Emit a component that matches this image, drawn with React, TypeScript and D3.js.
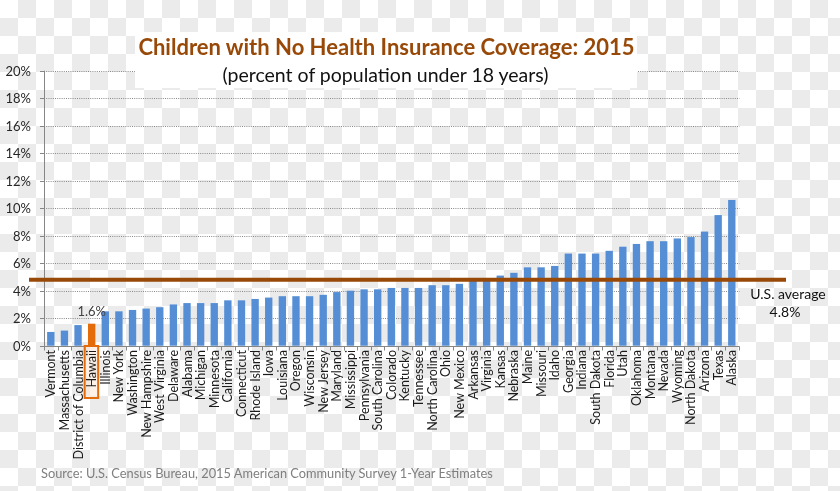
import React from "react";
import * as d3 from "d3";

const states = [
  "Vermont", "Massachusetts", "District of Columbia", "Hawaii", "Illinois", "New York",
  "Washington", "New Hampshire", "West Virginia", "Delaware", "Alabama", "Michigan",
  "Minnesota", "California", "Connecticut", "Rhode Island", "Iowa", "Louisiana", "Oregon",
  "Wisconsin", "New Jersey", "Maryland", "Mississippi", "Pennsylvania", "South Carolina",
  "Colorado", "Kentucky", "Tennessee", "North Carolina", "Ohio", "New Mexico", "Arkansas",
  "Virginia", "Kansas", "Nebraska", "Maine", "Missouri", "Idaho", "Georgia", "Indiana",
  "South Dakota", "Florida", "Utah", "Oklahoma", "Montana", "Nevada", "Wyoming",
  "North Dakota", "Arizona", "Texas", "Alaska",
];

const uninsuredPct = [
  1.0, 1.1, 1.5, 1.6, 2.5, 2.5,
  2.6, 2.7, 2.8, 3.0, 3.1, 3.1,
  3.1, 3.3, 3.3, 3.4, 3.5, 3.6, 3.6,
  3.6, 3.7, 3.9, 4.0, 4.1, 4.1,
  4.2, 4.2, 4.2, 4.4, 4.4, 4.5, 4.9,
  4.9, 5.1, 5.3, 5.7, 5.7, 5.8, 6.7, 6.7,
  6.7, 6.9, 7.2, 7.4, 7.6, 7.6, 7.8,
  7.9, 8.3, 9.5, 10.6,
];

const yTicks = [0, 2, 4, 6, 8, 10, 12, 14, 16, 18, 20];
const highlightState = "Hawaii";
const usAverage = 4.8;

const FONT = "Lato, 'Open Sans', sans-serif";
const BLUE = "#558ED5";
const ORANGE = "#E46C0A";
const BROWN = "#984807";

export default function App() {
  const W = 840;
  const H = 491;
  const left = 44;
  const right = 738.6;
  const y0 = 345.7;
  const yTop = 70.7;

  const x = d3.scaleBand<string>().domain(states).range([left, right]).paddingInner(0.46).paddingOuter(0.23);
  const y = d3.scaleLinear().domain([0, 20]).range([y0, yTop]);
  const step = x.step();
  const axisY = Math.round(y0) + 0.5;

  return (
    <svg width={W} height={H} style={{ position: "fixed", left: 0, top: 0 }} fontFamily={FONT}>
      <defs>
        <pattern id="checker" width={36} height={36} patternUnits="userSpaceOnUse">
          <rect width={36} height={36} fill="#ffffff" />
          <rect x={18} y={0} width={18} height={18} fill="#ebebeb" />
          <rect x={0} y={18} width={18} height={18} fill="#ebebeb" />
        </pattern>
      </defs>
      <rect width={W} height={H} fill="url(#checker)" />

      {/* gridlines */}
      {yTicks.filter((t) => t > 0).map((t) => {
        const yy = Math.round(y(t)) + 0.5;
        return (
          <line key={t} x1={left} x2={right + 1} y1={yy} y2={yy} stroke="#8a8a8a" strokeWidth={1} strokeDasharray="1,1.2" />
        );
      })}

      {/* title box */}
      <rect x={135} y={32} width={502} height={56} fill="#ffffff" />
      <text x={386.5} y={54.5} textAnchor="middle" fontWeight="bold" fontSize={22} fill={BROWN}>
        Children with No Health Insurance Coverage: 2015
      </text>
      <text x={385.5} y={81.5} textAnchor="middle" fontSize={19.5} fill="#111">
        (percent of population under 18 years)
      </text>

      {/* bars */}
      {states.map((s, i) => (
        <rect
          key={s}
          x={x(s)}
          y={y(uninsuredPct[i])}
          width={x.bandwidth()}
          height={y0 - y(uninsuredPct[i])}
          fill={s === highlightState ? ORANGE : BLUE}
        />
      ))}

      {/* y axis */}
      <line x1={left + 0.5} x2={left + 0.5} y1={yTop} y2={axisY} stroke="#868686" />
      {yTicks.map((t) => {
        const yy = Math.round(y(t)) + 0.5;
        return (
          <g key={t}>
            <line x1={40} x2={left} y1={yy} y2={yy} stroke="#868686" />
            <text x={31} y={yy + 4.5} textAnchor="end" fontSize={13} fill="#262626">
              {t}%
            </text>
          </g>
        );
      })}

      {/* x axis */}
      <line x1={left} x2={right + 1} y1={axisY} y2={axisY} stroke="#868686" />
      {d3.range(states.length + 1).map((i) => {
        const xx = Math.round(left + step * i) + 0.5;
        return <line key={i} x1={xx} x2={xx} y1={axisY} y2={axisY + 4} stroke="#868686" />;
      })}

      {/* highlight box around label */}
      {(() => {
        const cx = (x(highlightState) as number) + x.bandwidth() / 2;
        return (
          <rect x={cx - 7} y={346} width={13.5} height={52} fill="rgba(251,229,214,0.55)" stroke={ORANGE} strokeWidth={2} />
        );
      })()}

      {states.map((s) => {
        const cx = (x(s) as number) + x.bandwidth() / 2;
        return (
          <text
            key={s}
            transform={`translate(${cx + 4.5},${350}) rotate(-90)`}
            textAnchor="end"
            fontSize={12.5}
            fill="#1a1a1a"
          >
            {s}
          </text>
        );
      })}

      {/* data label */}
      {(() => {
        const i = states.indexOf(highlightState);
        const cx = (x(highlightState) as number) + x.bandwidth() / 2;
        return (
          <text x={cx} y={y(uninsuredPct[i]) - 7.5} textAnchor="middle" fontSize={13} fill="#404040">
            {uninsuredPct[i].toFixed(1)}%
          </text>
        );
      })()}

      {/* US average line */}
      <line x1={29} x2={786} y1={y(usAverage)} y2={y(usAverage)} stroke={BROWN} strokeWidth={4} />
      <text x={788} y={298.5} textAnchor="middle" fontSize={14} fill="#111">
        U.S. average
      </text>
      <text x={785} y={317} textAnchor="middle" fontSize={14} fill="#111">
        {usAverage.toFixed(1)}%
      </text>

      <text x={41} y={478} fontSize={12.8} fill="#7f7f7f">
        Source: U.S. Census Bureau, 2015 American Community Survey 1-Year Estimates
      </text>
    </svg>
  );
}
